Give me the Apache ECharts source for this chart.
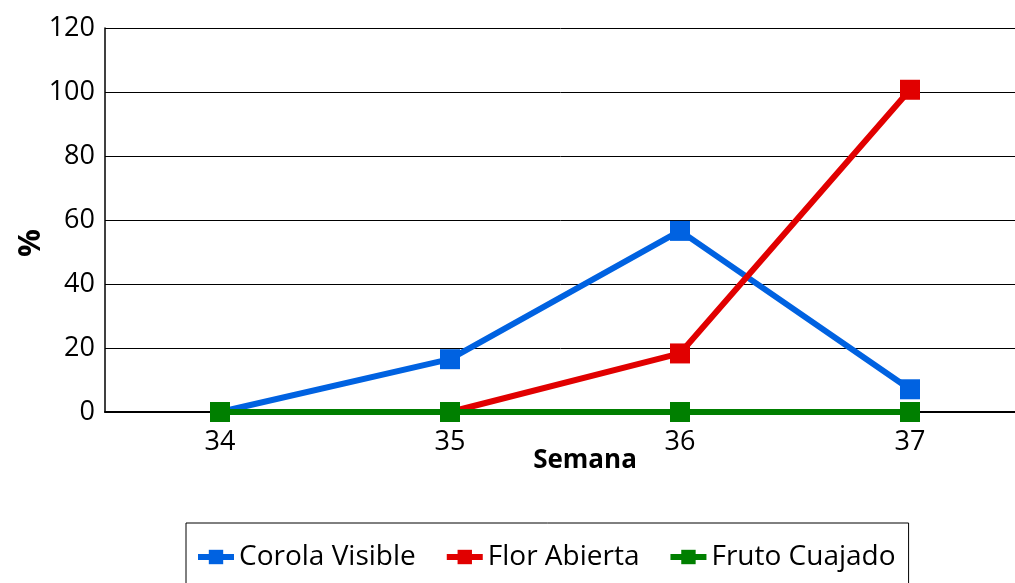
<!DOCTYPE html>
<html>
<head>
<meta charset="utf-8">
<script src="https://cdn.jsdelivr.net/npm/echarts@6/dist/echarts.min.js"></script>
<style>
  html, body { margin: 0; padding: 0; background: #fff; }
  #chart { width: 1015px; height: 583px; }
</style>
</head>
<body>
<div id="chart"></div>
<script>
// datos
var semanas = ["34", "35", "36", "37"];
var corolaVisible = [0, 16.5, 56.6, 7.1];
var florAbierta = [0, 0, 18.3, 100.7];
var frutoCuajado = [0, 0, 0, 0];
var nombres = ["Corola Visible", "Flor Abierta", "Fruto Cuajado"];
var colores = ["#0062E1", "#E10000", "#007F00"];

var myChart = echarts.init(document.getElementById("chart"));
var fuente = "'Open Sans', 'Noto Sans', sans-serif";

function serie(nombre, datos, color) {
  return {
    name: nombre,
    type: "line",
    data: datos,
    symbol: "rect",
    symbolSize: 20,
    lineStyle: { color: color, width: 6 },
    itemStyle: { color: color },
    animation: false,
  };
}

var option = {
  textStyle: { fontFamily: fuente },
  grid: {
    left: 105,
    top: 28,
    width: 920,
    height: 384,
    containLabel: false,
    outerBoundsMode: "none",
  },
  legend: {
    data: nombres,
    left: 186,
    top: 523,
    orient: "horizontal",
    itemWidth: 36,
    itemHeight: 18,
    itemGap: 28,
    padding: [20, 13, 40, 9],
    borderColor: "#000",
    borderWidth: 1,
    lineStyle: { width: 6 },
    textStyle: { fontFamily: fuente, fontSize: 28, color: "#000" },
  },
  xAxis: {
    type: "category",
    data: semanas,
    boundaryGap: true,
    name: "Semana",
    nameLocation: "middle",
    nameGap: 36,
    nameMoveOverlap: false,
    nameTextStyle: {
      fontFamily: fuente,
      fontSize: 26,
      fontWeight: "bold",
      color: "#000",
      padding: [0, 0, 0, 40],
    },
    axisLine: { show: true, lineStyle: { color: "#000", width: 2 } },
    axisTick: { show: false },
    axisLabel: { fontSize: 27, color: "#000", margin: 17, fontFamily: fuente },
    splitLine: { show: false },
  },
  yAxis: {
    type: "value",
    min: 0,
    max: 120,
    interval: 20,
    name: "%",
    nameLocation: "middle",
    nameGap: 58,
    nameMoveOverlap: false,
    nameRotate: 90,
    nameTextStyle: {
      fontFamily: fuente,
      fontSize: 31,
      fontWeight: "bold",
      color: "#000",
      padding: [0, 46, 0, 0],
    },
    axisLine: { show: true, lineStyle: { color: "#000", width: 1.5 } },
    axisTick: { show: false },
    axisLabel: { fontSize: 27, color: "#000", margin: 10, fontFamily: fuente },
    splitLine: { show: true, lineStyle: { color: "#000", width: 1 } },
  },
  series: [
    serie(nombres[0], corolaVisible, colores[0]),
    serie(nombres[1], florAbierta, colores[1]),
    serie(nombres[2], frutoCuajado, colores[2]),
  ],
};
option && myChart.setOption(option);
</script>
</body>
</html>
